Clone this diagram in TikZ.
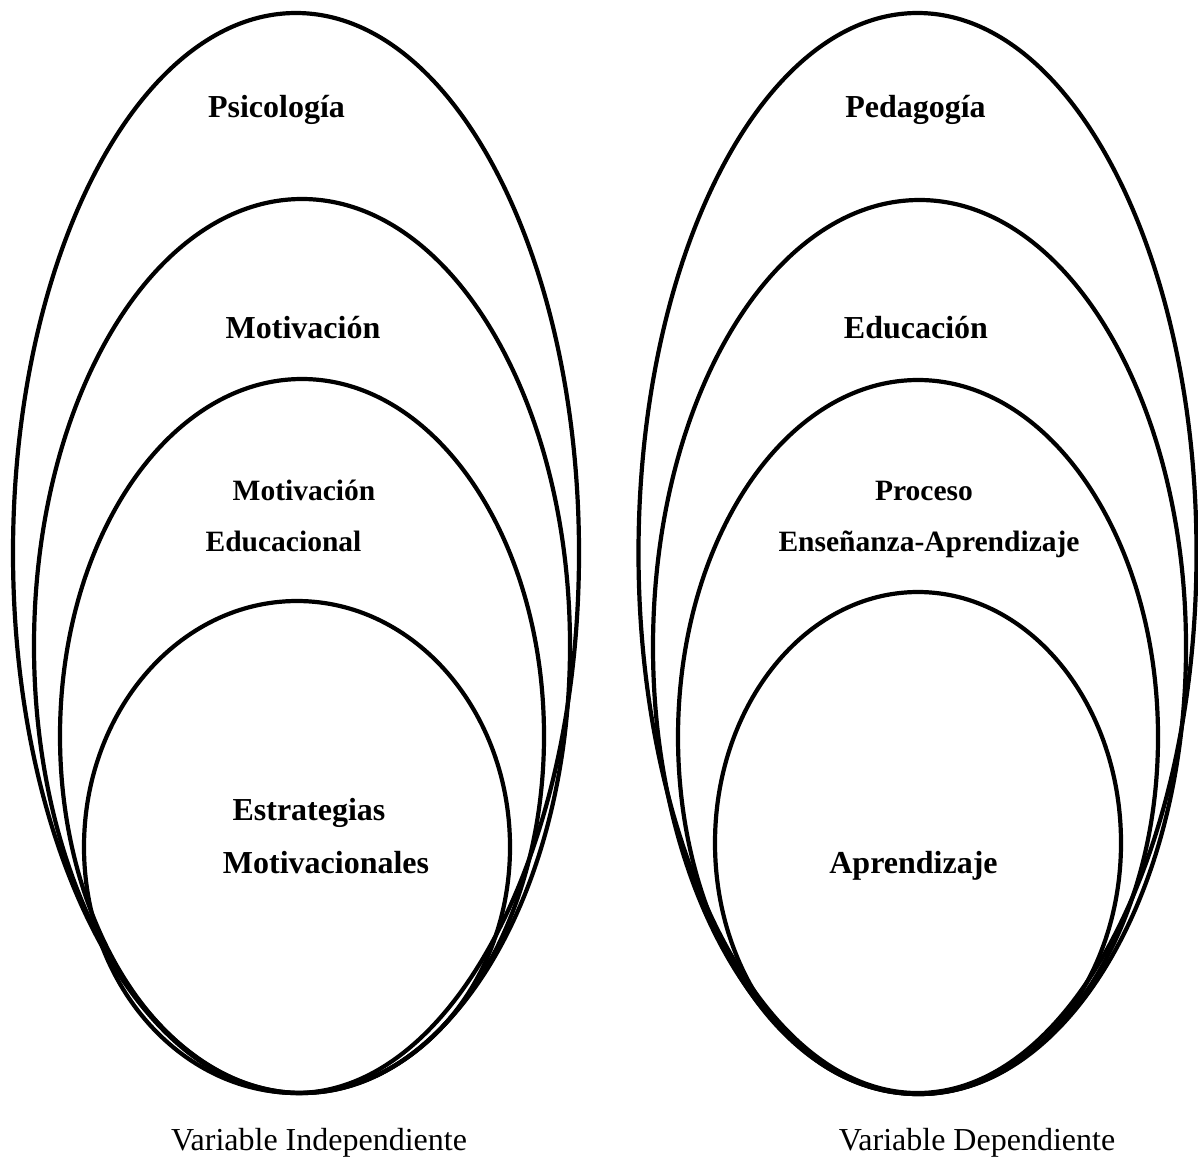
\documentclass[tikz,border=0pt]{standalone}
\usepackage{fontspec}
\setmainfont{Liberation Serif}
\tikzset{
  oval/.style={draw=black, line width=4.2pt},
  lbl/.style={anchor=base, inner sep=0pt, font=\fontsize{32}{38}\selectfont\bfseries},
  lblsm/.style={anchor=base, inner sep=0pt, font=\fontsize{29.5}{35}\selectfont\bfseries},
  captxt/.style={anchor=base, inner sep=0pt, font=\fontsize{32}{38}\selectfont}
}
\begin{document}
\begin{tikzpicture}[x=1pt,y=-1pt]
\useasboundingbox[fill=white] (0,0) rectangle (1198,1160);
% left set
\draw[oval] (296,553) ellipse [x radius=283pt, y radius=540pt];
\draw[oval] (302,646) ellipse [x radius=268pt, y radius=447pt];
\draw[oval] (302,736) ellipse [x radius=242pt, y radius=357pt];
\draw[oval] (297,847) ellipse [x radius=213pt, y radius=246pt];
% right set
\draw[oval] (917.5,553) ellipse [x radius=279pt, y radius=540pt];
\draw[oval] (919.5,647) ellipse [x radius=266.5pt, y radius=447pt];
\draw[oval] (918,737) ellipse [x radius=240pt, y radius=357pt];
\draw[oval] (918,843) ellipse [x radius=203pt, y radius=251pt];
% labels left
\node[lbl] (psi) at (276.5,117) {Psicología};
\node[lbl] (mot) at (303,338) {Motivación};
\node[lblsm] (mot2) at (304,500) {Motivación};
\node[lblsm] (edu2) at (283.5,551) {Educacional};
\node[lbl] (est) at (309,820) {Estrategias};
\node[lbl] (motv) at (326,873) {Motivacionales};
% labels right
\node[lbl] (ped) at (915.5,117) {Pedagogía};
\node[lbl] (edu) at (916,338) {Educación};
\node[lblsm] (pro) at (924,500) {Proceso};
\node[lblsm] (ens) at (929,551) {Enseñanza-Aprendizaje};
\node[lbl] (apr) at (913.5,873) {Aprendizaje};
% captions
\node[captxt] (vi) at (319,1150) {Variable Independiente};
\node[captxt] (vd) at (977,1150) {Variable Dependiente};
\end{tikzpicture}
\end{document}
